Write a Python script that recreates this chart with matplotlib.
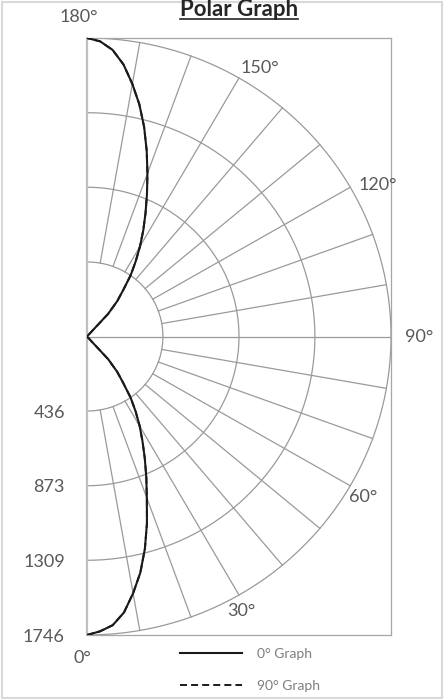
import numpy as np
import matplotlib
matplotlib.use("Agg")
import matplotlib.pyplot as plt
from matplotlib.lines import Line2D
from matplotlib.patches import Rectangle

# angles measured from the bottom (0°) through the right (90°) to the top (180°)
theta_deg = [0, 2.5, 5, 7.5, 10, 12.5, 15, 17.5, 20, 22.5, 25, 27.5, 30, 32.5, 35, 37.5,
             40, 42.5, 45, 90, 135, 137.5, 140, 142.5, 145, 147.5, 150, 152.5, 155,
             157.5, 160, 162.5, 165, 167.5, 170, 172.5, 175, 177.5, 180]
graph_0 = [1746, 1726, 1695, 1628, 1525, 1415, 1285, 1145, 1005, 890, 785, 690, 605, 520,
           437, 340, 270, 180, 0, 0, 0, 180, 270, 340, 437, 520, 609, 700, 795,
           900, 1015, 1140, 1268, 1390, 1500, 1605, 1683, 1728, 1746]
graph_90 = [1746, 1726, 1695, 1628, 1525, 1415, 1285, 1145, 1005, 890, 785, 690, 605, 520,
            437, 340, 270, 180, 0, 0, 0, 180, 270, 340, 437, 520, 609, 700, 795,
            900, 1015, 1140, 1268, 1390, 1500, 1605, 1683, 1728, 1746]

rings = [436, 873, 1309, 1746]
ring_labels = ["436", "873", "1309", "1746"]
spokes = [10, 20, 30, 40, 50, 60, 70, 80, 100, 110, 120, 130, 140, 150, 160, 170]
angle_labels = [0, 30, 60, 90, 120, 150, 180]

plt.rcParams['font.family'] = ['Lato', 'DejaVu Sans']
label_col = '#595959'
grid_col = '#9a9a9a'
dash = (0, (3.6, 2.1))

fig = plt.figure(figsize=(4.45, 7.0), dpi=100)
ax = fig.add_axes([87 / 445, 65 / 700, 304 / 445, 597 / 700])
rmax = rings[-1]


def to_xy(r, deg):
    t = np.radians(deg)
    return r * np.sin(t), -r * np.cos(t)


# grid: half rings and radial spokes
arc = np.linspace(0, 180, 361)
for r in rings:
    x, y = to_xy(r, arc)
    ax.plot(x, y, color=grid_col, lw=0.9, zorder=1)
for a in spokes:
    x, y = to_xy(np.array([rings[0], rmax]), a)
    ax.plot(x, y, color=grid_col, lw=0.9, zorder=1)
ax.plot([0, rmax], [0, 0], color=grid_col, lw=0.9, zorder=1)

# the two graphs
x90, y90 = to_xy(np.array(graph_90), np.array(theta_deg))
ax.plot(x90, y90, color='#1a1a1a', lw=1.4, ls=dash, label='90° Graph', zorder=3)
x0, y0 = to_xy(np.array(graph_0), np.array(theta_deg))
ax.plot(x0, y0, color='#1a1a1a', lw=1.5, label='0° Graph', zorder=4)

ax.set_xlim(0, rmax)
ax.set_ylim(-rmax, rmax)
ax.set_xticks([])
ax.set_yticks([-r for r in rings])
ax.set_yticklabels(ring_labels)
ax.tick_params(axis='y', length=0, pad=16, labelsize=13, labelcolor=label_col)
for s in ['top', 'right', 'bottom']:
    ax.spines[s].set_color('#a6a6a6')
    ax.spines[s].set_linewidth(0.9)
ax.spines['left'].set_color('#bfbfbf')
ax.spines['left'].set_linewidth(1.6)

# angle labels around the outer ring (offsets in points)
offsets = {0: (-3, -16.5), 30: (2, -11.5), 60: (9.5, -8), 90: (20, 0),
           120: (19.5, 1.5), 150: (15, 7), 180: (-6, 15)}
for a in angle_labels:
    px, py = to_xy(rmax, a)
    ax.annotate(f"{a}°", (px, py), xytext=offsets[a], textcoords='offset points',
                ha='center', va='center', fontsize=13, color=label_col,
                annotation_clip=False)

# legend below the plot
handles = [Line2D([], [], color='#1a1a1a', lw=1.5),
           Line2D([], [], color='#1a1a1a', lw=1.4, ls=dash)]
leg = fig.legend(handles, ['0° Graph', '90° Graph'], loc='center',
                 bbox_to_anchor=(250 / 445, 30 / 700), frameon=False, fontsize=10,
                 handlelength=4.5, handletextpad=1.1, labelspacing=1.45)
for t in leg.get_texts():
    t.set_color('#7f7f7f')

# underlined bold title
title = fig.text(239 / 445, (700 - 16.5) / 700, "Polar Graph", ha='center', va='baseline',
                 fontsize=16, fontweight='bold', color='#262626')
fig.canvas.draw()
bb = title.get_window_extent().transformed(fig.transFigure.inverted())
fig.add_artist(Line2D([bb.x0, bb.x1], [(700 - 19) / 700] * 2, color='#262626',
                      lw=1.2, transform=fig.transFigure))

# light chart-area border
fig.add_artist(Rectangle((2 / 445, 2 / 700), 440 / 445, 696 / 700, transform=fig.transFigure,
                         fill=False, ec='#d9d9d9', lw=1.5))

fig.savefig("out.png", dpi=100)
